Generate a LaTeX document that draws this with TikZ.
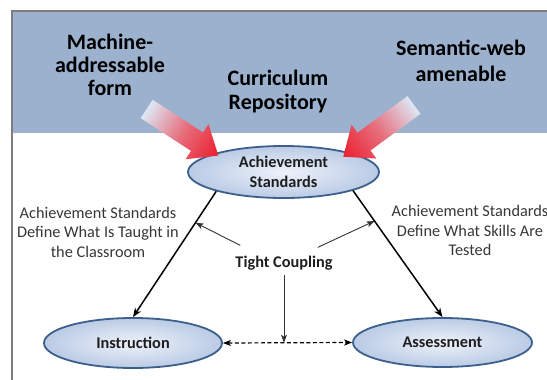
\documentclass[tikz,border=0pt]{standalone}
\usepackage{fontspec}
\setmainfont{Carlito}
\usetikzlibrary{arrows.meta,shapes.geometric}
\definecolor{bandblue}{RGB}{155,177,206}
\definecolor{framegray}{RGB}{125,125,125}
\definecolor{ellborder}{RGB}{60,95,140}
\definecolor{ellin}{RGB}{238,242,250}
\definecolor{ellout}{RGB}{186,203,229}
\definecolor{arlight}{RGB}{222,231,244}
\definecolor{arred}{RGB}{236,30,45}
\definecolor{txt}{RGB}{30,30,30}
\definecolor{lbltxt}{RGB}{55,55,55}
\begin{document}
\begin{tikzpicture}[x=1pt,y=-1pt,
  oval/.style={ellipse, draw=ellborder, line width=1.8pt, inner color=ellin, outer color=ellout, inner sep=0pt, font=\bfseries\fontsize{16.3}{19.5}\selectfont, text=txt, align=center},
  headtext/.style={align=center, anchor=base, text=black, inner sep=0pt},
  lbl/.style={font=\fontsize{16.3}{19.5}\selectfont, align=center, anchor=base, text=lbltxt, inner sep=0pt},
  mainline/.style={line width=1.5pt, -{Stealth[length=9pt,width=7pt,inset=2.5pt]}},
  thinarrow/.style={line width=0.9pt, draw=black!80, -{Stealth[length=8pt,width=6pt,inset=2pt]}},
  dasharrow/.style={line width=1.2pt, dash pattern=on 4pt off 2.5pt, {Stealth[length=8pt,width=6pt,inset=2pt]}-{Stealth[length=8pt,width=6pt,inset=2pt]}},
  fatarrow/.style={left color=arlight, right color=arred, middle color=arred!60!arlight},
]
\useasboundingbox (0,0) rectangle (547,380);
% band and frame
\fill[bandblue] (12,11) rectangle (547,133);
\draw[framegray, line width=1.8pt] (12,381) -- (12,11) -- (548,11);

% header texts (anchor base = last line)
\node[headtext, font=\bfseries\fontsize{22}{23.2}\selectfont] (mach) at (110,95.5) {Machine-\\addressable\\form};
\node[headtext, font=\bfseries\fontsize{22}{24.5}\selectfont] (curr) at (278,109.5) {Curriculum\\Repository};
\node[headtext, font=\bfseries\fontsize{22}{26}\selectfont] (sem) at (461,81.5) {Semantic-web\\amenable};

% ellipses
\node[oval, minimum width=191, minimum height=52] (ach) at (283.5,172) {Achievement\\Standards};
\node[oval, minimum width=178, minimum height=50] (ins) at (133,343) {Instruction};
\node[oval, minimum width=179, minimum height=49] (ass) at (442.5,342.5) {Assessment};

% labels
\node[lbl] (lblL) at (98,257) {Achievement Standards\\Define What Is Taught in\\the Classroom};
\node[lbl] (lblR) at (470,255.5) {Achievement Standards\\Define What Skills Are\\Tested};
\node[font=\bfseries\fontsize{16.3}{19.5}\selectfont, text=txt, inner sep=5pt, anchor=base] (tc) at (284,267) {Tight Coupling};

% connectors
\draw[mainline] (ach.196) -- (ins.north) coordinate[pos=0.25] (lp);
\draw[mainline] (ach.-15) -- (ass.north) coordinate[pos=0.24] (rp);
\draw[thinarrow] ([shift={(10,-5)}]tc.north west) -- (lp);
\draw[thinarrow] ([shift={(-20,-3)}]tc.north east) -- (rp);
\draw[dasharrow] (ins.east) -- (ass.west) coordinate[pos=0.5] (mid);
\draw[thinarrow] (tc.south) -- (tc.south |- mid);

% fat gradient arrows
\begin{scope}[transform canvas={shift={(146.7,109)},rotate=-33}]
\shade[fatarrow] (0,-11) -- (60,-11) -- (60,-21) -- (85.4,0) -- (60,21) -- (60,11) -- (0,11) -- cycle;
\end{scope}
\begin{scope}[transform canvas={shift={(414,105)},rotate=-143.8}]
\shade[fatarrow] (0,-11) -- (62,-11) -- (62,-21) -- (87.6,0) -- (62,21) -- (62,11) -- (0,11) -- cycle;
\end{scope}
\end{tikzpicture}
\end{document}
